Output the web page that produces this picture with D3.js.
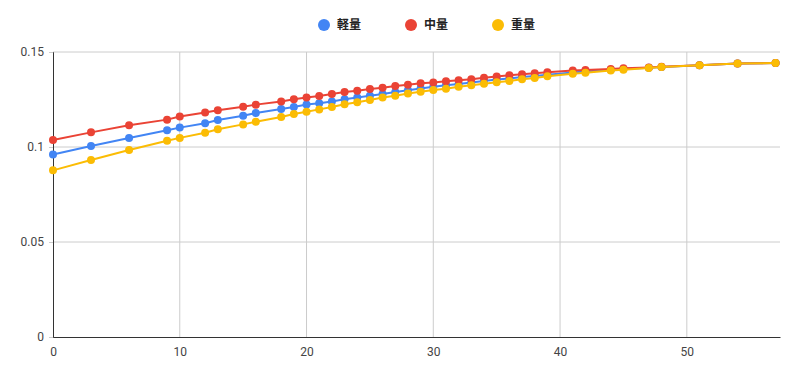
<!DOCTYPE html>
<html lang="ja">
<head>
<meta charset="utf-8">
<title>軽量 / 中量 / 重量</title>
<script src="https://d3js.org/d3.v7.min.js"></script>
<style>
  body { margin: 0; background: #fff; }
  .tick text { font-family: Roboto, "Noto Sans", sans-serif; font-size: 12px; fill: #444; }
  .legend text { font-family: "Noto Sans CJK JP", sans-serif; font-size: 12px; fill: #222; }
</style>
</head>
<body>
<div id="vis"></div>
<script>
const xs = [0, 3, 6, 9, 10, 12, 13, 15, 16, 18, 19, 20, 21, 22, 23, 24, 25, 26, 27, 28, 29, 30,
            31, 32, 33, 34, 35, 36, 37, 38, 39, 41, 42, 44, 45, 47, 48, 51, 54, 57];

const light = [0.0960, 0.1005, 0.1047, 0.1088, 0.1102, 0.1125, 0.1142, 0.1165, 0.1179, 0.1200, 0.1211, 0.1224,
               0.1230, 0.1240, 0.1251, 0.1260, 0.1270, 0.1279, 0.1290, 0.1299, 0.1308, 0.1317,
               0.1325, 0.1332, 0.1339, 0.1347, 0.1355, 0.1361, 0.1368, 0.1374, 0.1380, 0.1392, 0.1397, 0.1406, 0.1410, 0.1417, 0.1421, 0.1430, 0.1439, 0.1442];

const medium = [0.1037, 0.1077, 0.1114, 0.1144, 0.1160, 0.1182, 0.1193, 0.1212, 0.1223, 0.1240, 0.1251, 0.1261,
                0.1268, 0.1279, 0.1289, 0.1296, 0.1305, 0.1312, 0.1321, 0.1328, 0.1335, 0.1340,
                0.1346, 0.1351, 0.1356, 0.1364, 0.1371, 0.1377, 0.1383, 0.1388, 0.1393, 0.1402, 0.1405, 0.1411, 0.1414, 0.1419, 0.1422, 0.1430, 0.1440, 0.1442];

const heavy = [0.0877, 0.0932, 0.0984, 0.1033, 0.1048, 0.1075, 0.1093, 0.1119, 0.1133, 0.1158, 0.1174, 0.1186,
               0.1198, 0.1211, 0.1225, 0.1235, 0.1247, 0.1260, 0.1270, 0.1281, 0.1291, 0.1300,
               0.1307, 0.1317, 0.1325, 0.1333, 0.1341, 0.1347, 0.1356, 0.1363, 0.1372, 0.1386, 0.1391, 0.1402, 0.1407, 0.1416, 0.1421, 0.1430, 0.1440, 0.1442];

const seriesNames = ["軽量", "中量", "重量"];
const colors = ["#4285f4", "#ea4335", "#fbbc04"];
const xTicks = [0, 10, 20, 30, 40, 50];
const yTicks = [0, 0.05, 0.1, 0.15];

const width = 800, height = 377;
const plotLeft = 53, plotRight = 780, plotTop = 52, plotBottom = 337;

const x = d3.scaleLinear().domain([0, 57.35]).range([plotLeft, plotRight]);
const y = d3.scaleLinear().domain([0, 0.15]).range([plotBottom, plotTop]);

const svg = d3.select("#vis").append("svg")
  .attr("width", width)
  .attr("height", height);

// gridlines
svg.append("g").selectAll("line")
  .data(yTicks.filter(d => d > 0))
  .join("line")
  .attr("x1", plotLeft).attr("x2", plotRight)
  .attr("y1", d => y(d)).attr("y2", d => y(d))
  .attr("stroke", "#ccc");

svg.append("g").selectAll("line")
  .data(xTicks.filter(d => d > 0))
  .join("line")
  .attr("x1", d => x(d)).attr("x2", d => x(d))
  .attr("y1", plotTop).attr("y2", plotBottom)
  .attr("stroke", "#ccc");

// axes
const yAxis = svg.append("g")
  .attr("transform", "translate(" + plotLeft + ",0)")
  .call(d3.axisLeft(y).tickValues(yTicks).tickFormat(d => d === 0 ? "0" : String(d)).tickSize(4).tickPadding(5));
yAxis.select(".domain").attr("stroke", "#333").attr("stroke-width", 1);
yAxis.selectAll(".tick line").attr("stroke", "#ccc");

const xAxis = svg.append("g")
  .attr("transform", "translate(0," + plotBottom + ")")
  .call(d3.axisBottom(x).tickValues(xTicks).tickFormat(d3.format("d")).tickSize(0).tickPadding(10));
xAxis.select(".domain").attr("stroke", "#333").attr("stroke-width", 1);

// lines and points
const allSeries = [light, medium, heavy];
const line = d3.line().x((d, i) => x(xs[i])).y(d => y(d));

allSeries.forEach((vals, k) => {
  const g = svg.append("g");
  g.append("path")
    .datum(vals)
    .attr("fill", "none")
    .attr("stroke", colors[k])
    .attr("stroke-width", 2)
    .attr("d", line);
  g.selectAll("circle")
    .data(vals)
    .join("circle")
    .attr("cx", (d, i) => x(xs[i]))
    .attr("cy", d => y(d))
    .attr("r", 4)
    .attr("fill", colors[k]);
});

// legend
const legendX = [324, 411, 498];
const legend = svg.append("g").attr("class", "legend");
seriesNames.forEach((name, k) => {
  legend.append("circle")
    .attr("cx", legendX[k])
    .attr("cy", 25)
    .attr("r", 6)
    .attr("fill", colors[k]);
  legend.append("text")
    .attr("x", legendX[k] + 13)
    .attr("y", 29)
    .attr("font-weight", "bold")
    .text(name);
});
</script>
</body>
</html>
